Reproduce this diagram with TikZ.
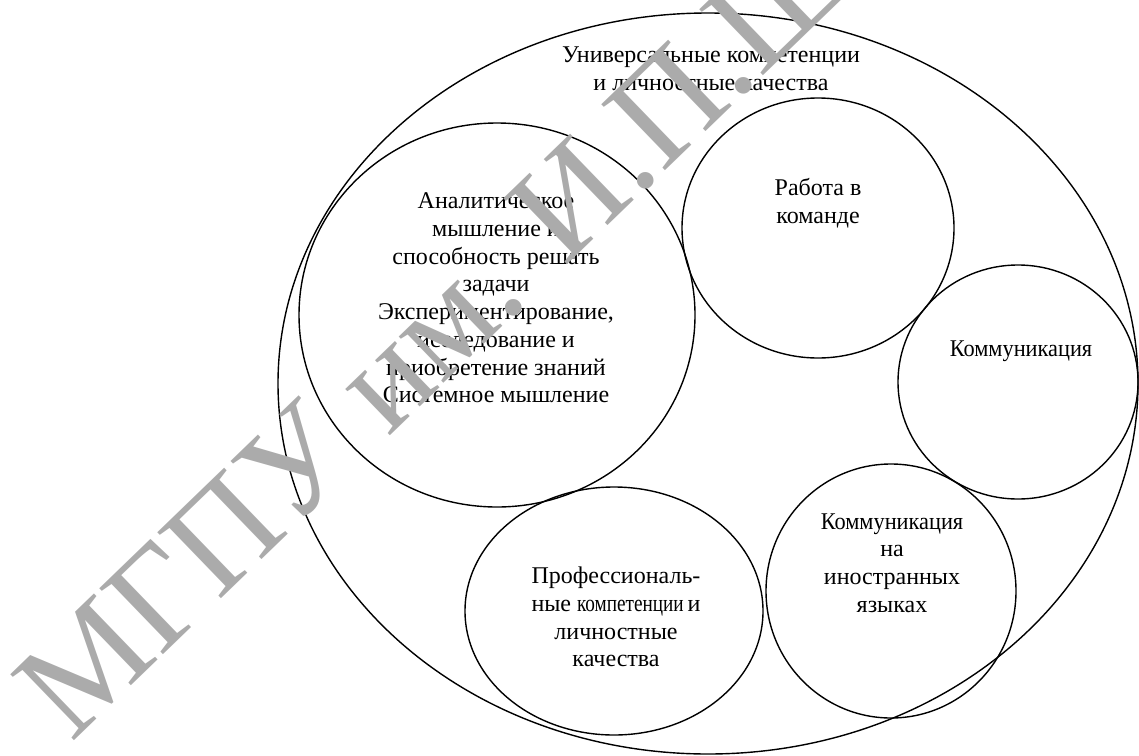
\documentclass[tikz,border=0pt]{standalone}
\usepackage{fontspec}
\setmainfont{Liberation Serif}
\newfontfamily\timesfont{Liberation Serif}
\usepackage{graphicx}

\definecolor{wmgray}{RGB}{171,171,171}

\tikzset{
    ring/.style={line width=1.4pt},
    circletext/.style={align=center, inner sep=0pt, font=\timesfont\fontsize{24}{27.7}\selectfont},
    watermark/.style={text=wmgray, inner sep=0pt, font=\timesfont\fontsize{140}{140}\selectfont}
}

\begin{document}
\begin{tikzpicture}[x=1pt, y=-1pt]
    \useasboundingbox (0,0) rectangle (1139,755);

    % universal competences
    \draw[ring] (708,383.5) ellipse [x radius=430pt, y radius=370.5pt];
    \node[circletext] (universal) at (711,69) {Универсальные компетенции\\и личностные качества};

    % analytic thinking
    \draw[ring] (497,315) ellipse [x radius=198pt, y radius=192pt];
    \node[circletext] (analytic) at (496,298) {Аналитическое\\мышление и\\способность решать\\задачи\\Экспериментирование,\\исследование и\\приобретение знаний\\Системное мышление};

    % teamwork
    \draw[ring] (818,228) ellipse [x radius=136pt, y radius=130pt];
    \node[circletext] (team) at (818,203) {Работа в\\команде};

    % communication
    \draw[ring] (1018,382) ellipse [x radius=120pt, y radius=117pt];
    \node[circletext] (comm) at (1021,351) {\scalebox{0.93}[1]{Коммуникация}};

    % foreign languages
    \draw[ring] (891,591) ellipse [x radius=125pt, y radius=127pt];
    \node[circletext] (foreign) at (892,563) {\scalebox{0.93}[1]{Коммуникация}\\на\\иностранных\\языках};

    % professional competences
    \draw[ring] (614,611) ellipse [x radius=149pt, y radius=124pt];
    \node[circletext] (professional) at (616,617) {Профессиональ-\\ные \scalebox{0.8}[1]{компетенции}\,и\\личностные\\качества};

    % watermark
    \node[watermark, rotate=44, anchor=base west] (stamp) at (71,744) {МГПУ им. И.П.Ш};
\end{tikzpicture}
\end{document}
